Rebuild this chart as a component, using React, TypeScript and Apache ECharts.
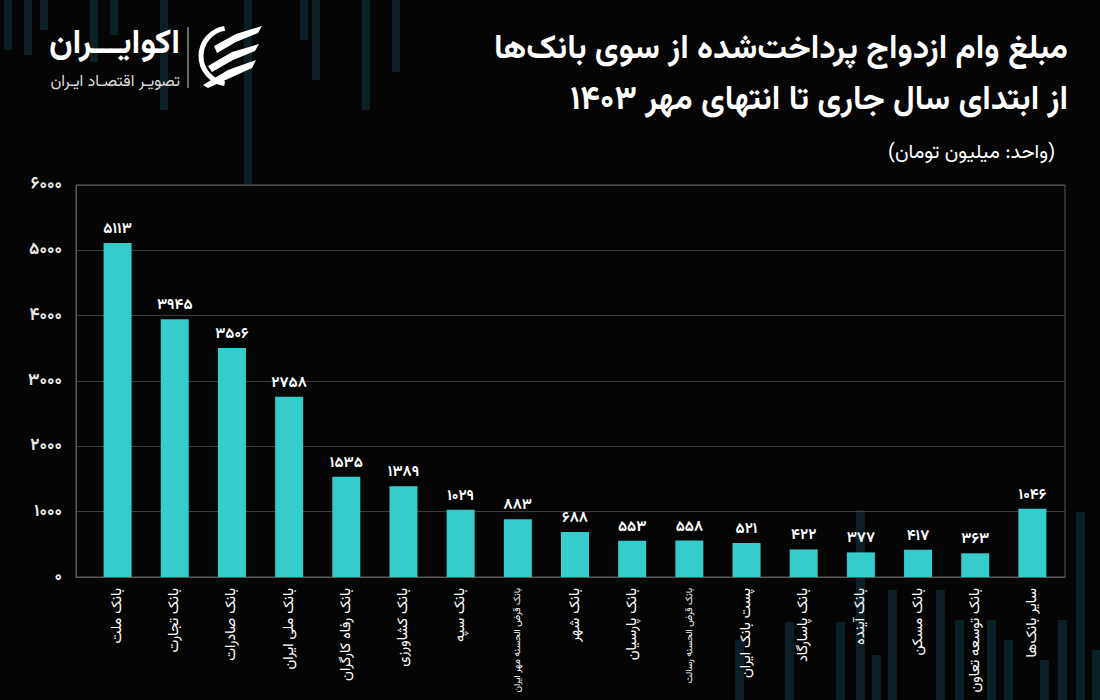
import React, { useEffect, useRef } from "react";
import * as echarts from "echarts";

const categories = [
  "بانک ملت",
  "بانک تجارت",
  "بانک صادرات",
  "بانک ملی ایران",
  "بانک رفاه کارگران",
  "بانک کشاورزی",
  "بانک سپه",
  "بانک قرض الحسنه مهر ایران",
  "بانک شهر",
  "بانک پارسیان",
  "بانک قرض الحسنه رسالت",
  "پست بانک ایران",
  "بانک پاسارگاد",
  "بانک آینده",
  "بانک مسکن",
  "بانک توسعه تعاون",
  "سایر بانک‌ها",
];
const smallLabelCats = ["بانک قرض الحسنه مهر ایران", "بانک قرض الحسنه رسالت"];
const values = [5113, 3945, 3506, 2758, 1535, 1389, 1029, 883, 688, 553, 558, 521, 422, 377, 417, 363, 1046];
const yTicks = [0, 1000, 2000, 3000, 4000, 5000, 6000];

const titleLine1 = "مبلغ وام ازدواج پرداخت‌شده از سوی بانک‌ها";
const titleLine2 = "از ابتدای سال جاری تا انتهای مهر ۱۴۰۳";
const unitText = "(واحد: میلیون تومان)";
const brandName = "اکوایـــران";
const brandSub = "تصویـر اقتصـاد ایـران";

const FONT = "Vazirmatn, 'Noto Sans Arabic', 'DejaVu Sans', sans-serif";
const fa = (n: number | string) => String(n).replace(/\d/g, (d) => "۰۱۲۳۴۵۶۷۸۹"[+d]);

// decorative background strips [x, y1, y2]
const topStrips = [
  [4, 0, 50], [24, 0, 55], [40, 0, 30], [90, 0, 62], [110, 0, 35], [160, 0, 110],
  [244, 0, 185], [312, 0, 80], [362, 0, 110], [392, 0, 72], [300, 0, 40],
];
const bottomStrips = [
  [785, 622, 700], [836, 622, 700], [856, 510, 700], [872, 655, 700], [888, 590, 700],
  [936, 590, 700], [955, 620, 700], [987, 620, 700], [1004, 640, 700], [1040, 660, 700],
  [1058, 620, 700], [1076, 512, 700], [1092, 650, 700], [735, 640, 700],
];

export default function App() {
  const ref = useRef<HTMLDivElement>(null);
  useEffect(() => {
    if (!ref.current) return;
    const chart = echarts.init(ref.current, null, { renderer: "svg" });

    const strips: any[] = [];
    topStrips.forEach(([x, y1, y2]) =>
      strips.push({ type: "rect", z: 0, shape: { x, y: y1, width: 8, height: y2 - y1 }, style: { fill: "#0b1f26" } })
    );
    bottomStrips.forEach(([x, y1, y2]) =>
      strips.push({ type: "rect", z: 0, shape: { x, y: y1, width: 9, height: y2 - y1 }, style: { fill: "#0b1f26" } })
    );

    const logo: any[] = [
      {
        type: "arc",
        z: 10,
        shape: { cx: 229, cy: 56, r: 28, startAngle: Math.PI * 0.55, endAngle: Math.PI * 1.45 },
        style: { stroke: "#fff", lineWidth: 5, fill: "none" },
      },
      {
        type: "polygon",
        z: 10,
        shape: { points: [[214, 46], [236, 34], [262, 26], [258, 33], [236, 42], [217, 53]] },
        style: { fill: "#fff" },
      },
      {
        type: "polygon",
        z: 10,
        shape: { points: [[208, 66], [232, 52], [259, 44], [255, 51], [233, 60], [212, 72]] },
        style: { fill: "#fff" },
      },
      {
        type: "polygon",
        z: 10,
        shape: { points: [[203, 85], [228, 70], [256, 60], [252, 68], [230, 78], [208, 88]] },
        style: { fill: "#fff" },
      },
      {
        type: "line",
        z: 10,
        shape: { x1: 188, y1: 27, x2: 188, y2: 88 },
        style: { stroke: "#ccc", lineWidth: 1 },
      },
      {
        type: "text",
        z: 10,
        x: 180,
        y: 44,
        style: { text: brandName, fill: "#fff", font: `bold 34px ${FONT}`, textAlign: "right", textVerticalAlign: "middle" },
      },
      {
        type: "text",
        z: 10,
        x: 180,
        y: 82,
        style: { text: brandSub, fill: "#ddd", font: `16px ${FONT}`, textAlign: "right", textVerticalAlign: "middle" },
      },
    ];

    const titles: any[] = [
      {
        type: "text",
        z: 10,
        x: 1068,
        y: 50,
        style: { text: titleLine1, fill: "#fff", font: `bold 33px ${FONT}`, textAlign: "right", textVerticalAlign: "middle" },
      },
      {
        type: "text",
        z: 10,
        x: 1068,
        y: 101,
        style: { text: titleLine2, fill: "#fff", font: `bold 33px ${FONT}`, textAlign: "right", textVerticalAlign: "middle" },
      },
      {
        type: "text",
        z: 10,
        x: 1055,
        y: 153,
        style: { text: unitText, fill: "#fff", font: `20px ${FONT}`, textAlign: "right", textVerticalAlign: "middle" },
      },
    ];

    chart.setOption({
      animation: false,
      backgroundColor: "#050505",
      textStyle: { fontFamily: FONT },
      graphic: { elements: [...strips, ...logo, ...titles] },
      grid: [
        { left: 76, right: 35, top: 185, bottom: 123, show: true, borderColor: "#5a5a5a", borderWidth: 1, backgroundColor: "transparent", z: 1, outerBoundsMode: "none", containLabel: false },
        { left: 89, right: 39, top: 185, bottom: 123, outerBoundsMode: "none", containLabel: false },
      ],
      xAxis: [
        { type: "value", gridIndex: 0, min: 0, max: 1, show: true, axisLabel: { show: false }, axisTick: { show: false }, splitLine: { show: false }, axisLine: { show: true, lineStyle: { color: "#5a5a5a" } } },
        {
          type: "category",
          gridIndex: 1,
          data: categories.map((c) =>
            smallLabelCats.includes(c) ? { value: c, textStyle: { fontSize: 9.5 } } : c
          ),
          axisLine: { show: false },
          axisTick: { show: false },
          axisLabel: { rotate: 90, color: "#fff", fontSize: 14.5, margin: 11, interval: 0, fontFamily: FONT },
        },
      ],
      yAxis: [
        {
          type: "value",
          gridIndex: 0,
          min: yTicks[0],
          max: yTicks[yTicks.length - 1],
          interval: 1000,
          axisLine: { show: true, lineStyle: { color: "#5a5a5a" } },
          axisTick: { show: false },
          splitLine: { show: true, lineStyle: { color: "#3c3c3c", width: 1 } },
          axisLabel: { color: "#e8e8e8", fontSize: 17, fontWeight: "bold", margin: 14, formatter: (v: number) => fa(v), fontFamily: FONT },
        },
        { type: "value", gridIndex: 1, min: yTicks[0], max: yTicks[yTicks.length - 1], show: false },
      ],
      series: [
        {
          type: "bar",
          xAxisIndex: 1,
          yAxisIndex: 1,
          data: values,
          barWidth: 28,
          z: 3,
          itemStyle: { color: "#35cccc" },
          label: {
            show: true,
            position: "top",
            distance: 6,
            color: "#fff",
            fontSize: 15,
            fontWeight: "bold",
            fontFamily: FONT,
            formatter: (p: any) => fa(p.value),
          },
        },
      ],
    });
    return () => chart.dispose();
  }, []);
  return <div ref={ref} style={{ position: "fixed", left: 0, top: 0, width: 1100, height: 700 }} />;
}
